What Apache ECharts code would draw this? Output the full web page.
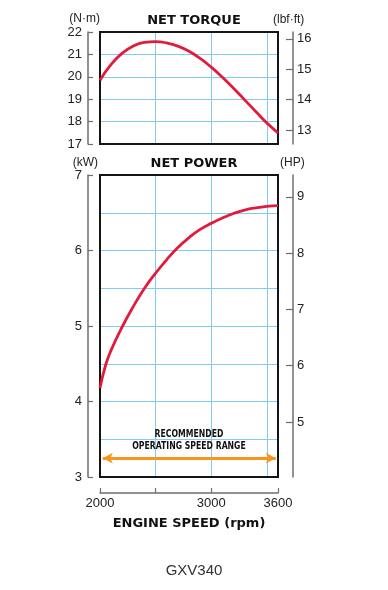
<!DOCTYPE html>
<html><head><meta charset="utf-8">
<script src="https://cdn.jsdelivr.net/npm/echarts@6/dist/echarts.min.js"></script>
<style>html,body{margin:0;padding:0;background:#fff;}#c{width:388px;height:590px;}</style>
</head><body><div id="c"></div>
<script>
// ---- data ----
const torqueRpm = [2000,2100,2200,2300,2400,2500,2600,2700,2800,2900,3000,3100,3200,3300,3400,3500,3600];
const torqueNm = [19.85,20.55,21.06,21.38,21.54,21.57,21.51,21.37,21.14,20.82,20.43,19.98,19.49,18.97,18.45,17.94,17.5];
const powerRpm = [2000,2050,2100,2200,2300,2400,2500,2600,2700,2800,2900,3000,3100,3200,3300,3400,3500,3600];
const powerKW = [4.18,4.48,4.68,4.99,5.26,5.50,5.70,5.88,6.04,6.17,6.28,6.36,6.43,6.49,6.535,6.565,6.585,6.595];
const torqueTicksNm = [17,18,19,20,21,22];
const torqueTicksLbf = [13,14,15,16];
const powerTicksKW = [3,4,5,6,7];
const powerTicksHP = [5,6,7,8,9];
const speedRange = [2000,3600];
const speedTicks = [2000,2500,3000,3600];
const speedLabels = [2000,3000,3600];
const operatingRange = [2025,3580];
const operatingLevelKW = 3.25;
const NM_TO_LBF = 0.73756;
const KW_TO_HP = 1/0.7457;

const RED = '#e31b3b', BLUE = '#80cbee', AX = '#6e6e6e', TXT = '#222';
const lblFont = {color: TXT, fontSize: 13, fontFamily: 'Liberation Sans, Arial, sans-serif', formatter: v => String(v)};

const chart = echarts.init(document.getElementById('c'), null, {renderer: 'canvas'});
const gridLine = {show: true, lineStyle: {color: BLUE, width: 1}};
const hiddenAxis = {axisLine:{show:false}, axisTick:{show:false}, axisLabel:{show:false}};

chart.setOption({
  animation: false,
  backgroundColor: '#fff',
  grid: [
    {left: 100, top: 32, width: 178, height: 112, show: true, borderColor: '#151515', borderWidth: 2, backgroundColor: 'transparent', z: 3},
    {left: 100, top: 175, width: 178, height: 302, show: true, borderColor: '#151515', borderWidth: 2, backgroundColor: 'transparent', z: 3}
  ],
  xAxis: [
    Object.assign({gridIndex: 0, type: 'value', min: speedRange[0], max: speedRange[1], interval: 500, splitLine: gridLine}, hiddenAxis),
    Object.assign({gridIndex: 1, type: 'value', min: speedRange[0], max: speedRange[1], interval: 500, splitLine: gridLine}, hiddenAxis),
    {gridIndex: 1, type: 'value', position: 'bottom', offset: 16, min: speedRange[0], max: speedRange[1],
     axisLine: {show: true, lineStyle: {color: AX, width: 1.5}},
     axisTick: {show: true, inside: true, length: 5, customValues: speedTicks, lineStyle: {color: AX, width: 1.2}},
     axisLabel: Object.assign({show: true, margin: 4, customValues: speedLabels, showMinLabel: true, showMaxLabel: true}, lblFont),
     splitLine: {show: false},
     name: 'ENGINE SPEED (rpm)', nameLocation: 'middle', nameGap: 24,
     nameTextStyle: {color: '#111', fontSize: 13, fontWeight: 'bold', fontFamily: 'DejaVu Sans, sans-serif'}}
  ],
  yAxis: [
    {gridIndex: 0, type: 'value', min: torqueTicksNm[0], max: torqueTicksNm[torqueTicksNm.length-1], interval: 1, position: 'left', offset: 12,
     axisLine: {show: true, lineStyle: {color: AX, width: 1.5}},
     axisTick: {show: true, inside: true, length: 5, lineStyle: {color: AX, width: 1.2}},
     axisLabel: Object.assign({margin: 6}, lblFont), splitLine: gridLine},
    {gridIndex: 0, type: 'value', min: torqueTicksNm[0]*NM_TO_LBF, max: torqueTicksNm[torqueTicksNm.length-1]*NM_TO_LBF, position: 'right', offset: 15,
     axisLine: {show: true, lineStyle: {color: AX, width: 1.5}},
     axisTick: {show: true, inside: true, length: 7, customValues: torqueTicksLbf, lineStyle: {color: AX, width: 1.2}},
     axisLabel: Object.assign({margin: 4, customValues: torqueTicksLbf}, lblFont), splitLine: {show: false}},
    Object.assign({gridIndex: 1, type: 'value', min: powerTicksKW[0], max: powerTicksKW[powerTicksKW.length-1], interval: 0.5, splitLine: gridLine}, hiddenAxis),
    {gridIndex: 1, type: 'value', min: powerTicksKW[0], max: powerTicksKW[powerTicksKW.length-1], interval: 1, position: 'left', offset: 12,
     axisLine: {show: true, lineStyle: {color: AX, width: 1.5}},
     axisTick: {show: true, inside: true, length: 5, lineStyle: {color: AX, width: 1.2}},
     axisLabel: Object.assign({margin: 6}, lblFont), splitLine: {show: false}},
    {gridIndex: 1, type: 'value', min: powerTicksKW[0]*KW_TO_HP, max: powerTicksKW[powerTicksKW.length-1]*KW_TO_HP, position: 'right', offset: 15,
     axisLine: {show: true, lineStyle: {color: AX, width: 1.5}},
     axisTick: {show: true, inside: true, length: 7, customValues: powerTicksHP, lineStyle: {color: AX, width: 1.2}},
     axisLabel: Object.assign({margin: 4, customValues: powerTicksHP}, lblFont), splitLine: {show: false}}
  ],
  series: [
    {type: 'line', xAxisIndex: 0, yAxisIndex: 0, data: torqueRpm.map((r,i)=>[r, torqueNm[i]]), smooth: 0.5, showSymbol: false, symbol: 'none',
     lineStyle: {color: RED, width: 2.8}, z: 4},
    {type: 'line', xAxisIndex: 1, yAxisIndex: 2, data: powerRpm.map((r,i)=>[r, powerKW[i]]), smooth: 0.5, showSymbol: false, symbol: 'none',
     lineStyle: {color: RED, width: 2.8}, z: 4,
     markLine: {silent: true, symbol: ['arrow','arrow'], symbolSize: [8, 10],
       lineStyle: {color: '#f7961e', width: 3, type: 'solid'},
       label: {show: false},
       data: [[{coord: [operatingRange[0], operatingLevelKW]}, {coord: [operatingRange[1], operatingLevelKW]}]]}}
  ],
  graphic: [
    {type: 'text', left: 'center', top: 14, style: {text: 'NET TORQUE', fill: '#111', font: 'bold 13px "DejaVu Sans", sans-serif'}},
    {type: 'text', left: 'center', top: 157, style: {text: 'NET POWER', fill: '#111', font: 'bold 13px "DejaVu Sans", sans-serif'}},
    {type: 'text', right: 288, top: 13, style: {text: '(N·m)', fill: TXT, font: '12px "Liberation Sans", Arial, sans-serif'}},
    {type: 'text', left: 273, top: 14, style: {text: '(lbf·ft)', fill: TXT, font: '12px "Liberation Sans", Arial, sans-serif'}},
    {type: 'text', right: 290, top: 157, style: {text: '(kW)', fill: TXT, font: '12px "Liberation Sans", Arial, sans-serif'}},
    {type: 'text', left: 280, top: 157, style: {text: '(HP)', fill: TXT, font: '12px "Liberation Sans", Arial, sans-serif'}},
    {type: 'text', x: 189, y: 429, scaleX: 0.86, z: 10,
     style: {text: 'RECOMMENDED\nOPERATING SPEED RANGE', fill: '#111', align: 'center', verticalAlign: 'top', lineHeight: 11.5,
       font: 'bold 10px "DejaVu Sans Condensed", "DejaVu Sans", sans-serif'}},
    {type: 'text', left: 'center', top: 563, style: {text: 'GXV340', fill: '#333', font: '15px "Liberation Sans", Arial, sans-serif'}}
  ]
});
</script></body></html>
